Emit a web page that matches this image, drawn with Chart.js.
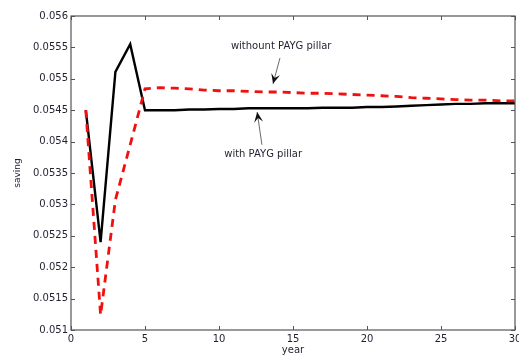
<!DOCTYPE html>
<html>
<head>
<meta charset="utf-8">
<script src="https://cdn.jsdelivr.net/npm/chart.js@4.4.1/dist/chart.umd.min.js"></script>
<style>
  html, body { margin: 0; padding: 0; background: #fff; }
  #wrap { width: 519px; height: 356px; position: relative; }
</style>
</head>
<body>
<div id="wrap"><canvas id="savingChart"></canvas></div>
<script>
// years 1..30
const years = [1, 2, 3, 4, 5, 6, 7, 8, 9, 10, 11, 12, 13, 14, 15, 16, 17, 18, 19, 20, 21, 22, 23, 24, 25, 26, 27, 28, 29, 30];

// saving rate with the PAYG pillar
const withPayg = [0.0545, 0.0524, 0.05511, 0.05555, 0.0545, 0.0545, 0.0545, 0.05451, 0.05451, 0.05452,
  0.05452, 0.05453, 0.05453, 0.05453, 0.05453, 0.05453, 0.05454, 0.05454, 0.05454, 0.05455,
  0.05455, 0.05456, 0.05457, 0.05458, 0.05459, 0.0546, 0.0546, 0.05461, 0.05461, 0.05461];

// saving rate without the PAYG pillar
const withoutPayg = [0.0545, 0.05124, 0.05307, 0.05395, 0.05484, 0.05486, 0.05485, 0.05484, 0.05482, 0.05481,
  0.05481, 0.0548, 0.05479, 0.05479, 0.05478, 0.05477, 0.05477, 0.05476, 0.05475, 0.05474,
  0.05473, 0.05472, 0.0547, 0.05469, 0.05468, 0.05467, 0.05466, 0.05466, 0.05465, 0.05465];

const xTicks = [0, 5, 10, 15, 20, 25, 30];
const yTicks = [0.051, 0.0515, 0.052, 0.0525, 0.053, 0.0535, 0.054, 0.0545, 0.055, 0.0555, 0.056];
const yTickLabels = ['0.051', '0.0515', '0.052', '0.0525', '0.053', '0.0535', '0.054', '0.0545', '0.055', '0.0555', '0.056'];

const FONT = 'DejaVu Sans, Arial, sans-serif';
const TEXT = '#1f2030';

// labels with arrows: text position, arrow tail, arrow head (data units)
const notes = [
  { text: 'withount PAYG pillar', at: [14.2, 0.05552], from: [14.12, 0.05533], to: [13.65, 0.05492] },
  { text: 'with PAYG pillar', at: [12.98, 0.05380], from: [12.9, 0.05395], to: [12.58, 0.05447] }
];

const toPoints = (vals) => years.map((y, i) => ({ x: y, y: vals[i] }));

// matlab style box with inward ticks on every side
const boxPlugin = {
  id: 'boxTicks',
  afterDraw(chart) {
    const { ctx, chartArea: a, scales } = chart;
    const sx = scales.x, sy = scales.y;
    ctx.save();
    ctx.strokeStyle = '#555';
    ctx.lineWidth = 1.2;
    ctx.strokeRect(a.left, a.top, a.right - a.left, a.bottom - a.top);
    ctx.lineWidth = 1;
    ctx.beginPath();
    xTicks.forEach(v => {
      const px = Math.round(sx.getPixelForValue(v)) + 0.5;
      ctx.moveTo(px, a.bottom); ctx.lineTo(px, a.bottom - 4);
      ctx.moveTo(px, a.top); ctx.lineTo(px, a.top + 4);
    });
    yTicks.forEach(v => {
      const py = Math.round(sy.getPixelForValue(v)) + 0.5;
      ctx.moveTo(a.left, py); ctx.lineTo(a.left + 4, py);
      ctx.moveTo(a.right, py); ctx.lineTo(a.right - 4, py);
    });
    ctx.stroke();

    // annotations
    ctx.font = '10px ' + FONT;
    ctx.fillStyle = TEXT;
    ctx.textAlign = 'center';
    ctx.textBaseline = 'middle';
    notes.forEach(n => {
      ctx.fillText(n.text, sx.getPixelForValue(n.at[0]), sy.getPixelForValue(n.at[1]));
      const x1 = sx.getPixelForValue(n.from[0]), y1 = sy.getPixelForValue(n.from[1]);
      const x2 = sx.getPixelForValue(n.to[0]), y2 = sy.getPixelForValue(n.to[1]);
      ctx.strokeStyle = '#444';
      ctx.lineWidth = 0.8;
      ctx.beginPath(); ctx.moveTo(x1, y1); ctx.lineTo(x2, y2); ctx.stroke();
      const ang = Math.atan2(y2 - y1, x2 - x1);
      const len = 11, half = 0.42;
      ctx.fillStyle = '#111';
      ctx.beginPath();
      ctx.moveTo(x2, y2);
      ctx.lineTo(x2 - len * Math.cos(ang - half), y2 - len * Math.sin(ang - half));
      ctx.lineTo(x2 - len * 0.55 * Math.cos(ang), y2 - len * 0.55 * Math.sin(ang));
      ctx.lineTo(x2 - len * Math.cos(ang + half), y2 - len * Math.sin(ang + half));
      ctx.closePath();
      ctx.fill();
      ctx.fillStyle = TEXT;
    });
    ctx.restore();
  }
};

const ctx = document.getElementById('savingChart').getContext('2d');
const savingChart = new Chart(ctx, {
  type: 'line',
  data: {
    datasets: [
      {
        label: 'with PAYG pillar',
        data: toPoints(withPayg),
        borderColor: '#000',
        borderWidth: 2.4,
        pointRadius: 0,
        tension: 0,
        order: 2
      },
      {
        label: 'withount PAYG pillar',
        data: toPoints(withoutPayg),
        borderColor: '#f01010',
        borderWidth: 2.8,
        borderDash: [8, 6],
        pointRadius: 0,
        tension: 0,
        order: 1
      }
    ]
  },
  options: {
    responsive: true,
    maintainAspectRatio: false,
    animation: false,
    layout: { padding: { top: 16, right: 4, left: 0, bottom: 0 } },
    plugins: {
      legend: { display: false },
      tooltip: { enabled: false }
    },
    scales: {
      x: {
        type: 'linear',
        min: 0,
        max: 30,
        afterBuildTicks: (s) => { s.ticks = xTicks.map(v => ({ value: v })); },
        afterFit: (s) => { s.height = 26; s.paddingLeft = 0; s.paddingRight = 0; },
        grid: { display: false, drawTicks: false },
        border: { display: false },
        ticks: {
          padding: 3,
          maxRotation: 0,
          color: TEXT,
          font: { family: FONT, size: 10 }
        },
        title: {
          display: true,
          text: 'year',
          color: TEXT,
          padding: { top: -1, bottom: 0 },
          font: { family: FONT, size: 10 }
        }
      },
      y: {
        type: 'linear',
        min: 0.051,
        max: 0.056,
        afterBuildTicks: (s) => { s.ticks = yTicks.map(v => ({ value: v })); },
        afterFit: (s) => { s.width = 71; s.paddingTop = 0; s.paddingBottom = 0; },
        grid: { display: false, drawTicks: false },
        border: { display: false },
        ticks: {
          padding: 3,
          color: TEXT,
          font: { family: FONT, size: 10 },
          callback: (v) => yTickLabels[yTicks.indexOf(v)] ?? ''
        },
        title: {
          display: true,
          text: 'saving',
          color: TEXT,
          padding: { top: 12, bottom: 0 },
          font: { family: FONT, size: 9 }
        }
      }
    }
  },
  plugins: [boxPlugin]
});
</script>
</body>
</html>
